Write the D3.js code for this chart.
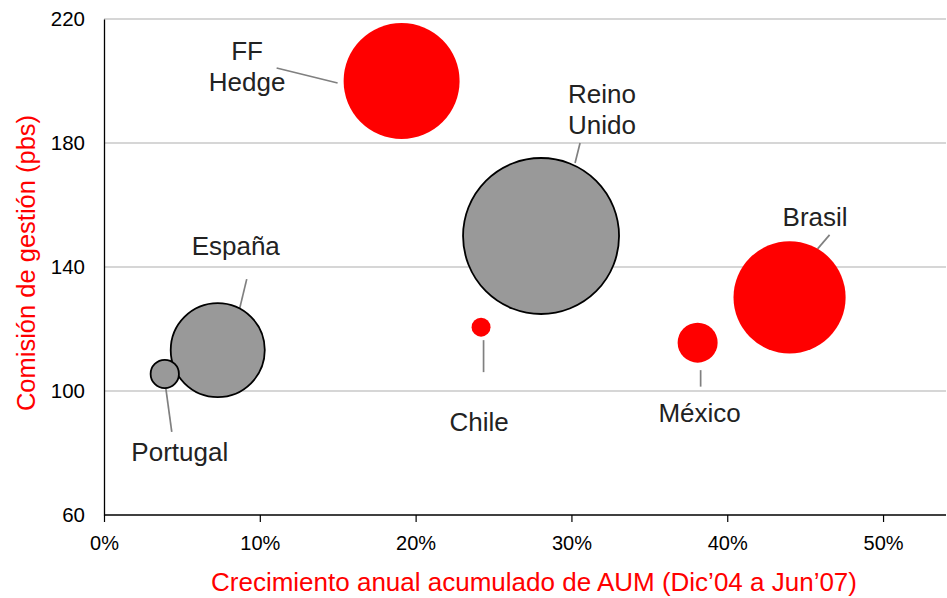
<!DOCTYPE html>
<html>
<head>
<meta charset="utf-8">
<script src="https://cdn.jsdelivr.net/npm/d3@7"></script>
<style>
  body { margin: 0; background: #fff; }
  text { font-family: "Liberation Sans", Arial, sans-serif; }
</style>
</head>
<body>
<div id="chart"></div>
<script>
// data
var names    = ["FF Hedge", "Reino Unido", "Brasil", "España", "Portugal", "Chile", "México"];
var growth   = [19.1, 28.05, 44.0, 7.3, 3.9, 24.2, 38.1];   // % anual
var fee      = [200, 150, 130.2, 113.2, 105.5, 120.6, 115.6]; // pbs
var sizes    = [336, 608, 314, 221, 20, 9, 40];               // relative bubble size
var group    = ["red", "grey", "red", "grey", "grey", "red", "red"];
var xTicks   = [0, 10, 20, 30, 40, 50];
var yTicks   = [60, 100, 140, 180, 220];

// label placement: text lines, baseline offset, leader line (offsets from bubble centre)
var labels = [
  {lines: ["FF", "Hedge"], tx: -154.5, ty: -21, lead: [-125, -13, -64, 2]},
  {lines: ["Reino", "Unido"], tx: 61, ty: -133, lead: [39, -93, 34, -73]},
  {lines: ["Brasil"], tx: 25.5, ty: -71.5, lead: [40, -62.5, 28, -48.5]},
  {lines: ["España"], tx: 18, ty: -95, lead: [29, -71, 22, -42]},
  {lines: ["Portugal"], tx: 15, ty: 87, lead: [7, 58, 1, 14]},
  {lines: ["Chile"], tx: -2, ty: 104, lead: [2.5, 13, 2.5, 45]},
  {lines: ["México"], tx: 2, ty: 79.5, lead: [3, 27.5, 3, 44]}
];

var width = 947, height = 598;
var mLeft = 104, mRight = 946, mTop = 19, mBottom = 515;

var svg = d3.select("#chart").append("svg")
    .attr("width", width)
    .attr("height", height);

var x = d3.scaleLinear().domain([0, 54.04]).range([mLeft, mRight]);
var y = d3.scaleLinear().domain([60, 220]).range([mBottom, mTop]);
var r = d3.scaleSqrt().domain([0, 608]).range([0, 78]);

// gridlines
svg.selectAll(".grid")
    .data(yTicks.filter(d => d > 60))
    .enter().append("line")
    .attr("x1", mLeft).attr("x2", mRight)
    .attr("y1", d => y(d)).attr("y2", d => y(d))
    .attr("stroke", "#c8c8c8")
    .attr("stroke-width", 1.3);

// x axis
var xAxis = svg.append("g")
    .attr("transform", "translate(0," + mBottom + ")")
    .call(d3.axisBottom(x).tickValues(xTicks).tickFormat(d => d + "%").tickSize(7).tickPadding(14));
xAxis.select(".domain").attr("stroke", "#000").attr("stroke-width", 1.3).attr("d", "M" + mLeft + ",0H" + mRight);
xAxis.selectAll(".tick line").attr("stroke", "#000").attr("stroke-width", 1.2);
xAxis.selectAll("text").attr("font-size", 20).attr("fill", "#000")
    .style("font-family", '"Liberation Sans", Arial, sans-serif');

// y axis
var yAxis = svg.append("g")
    .attr("transform", "translate(" + mLeft + ",0)")
    .call(d3.axisLeft(y).tickValues(yTicks).tickSize(0).tickPadding(19));
yAxis.select(".domain").attr("stroke", "#000").attr("stroke-width", 1.3);
yAxis.selectAll("text").attr("font-size", 20.5).attr("fill", "#000")
    .style("font-family", '"Liberation Sans", Arial, sans-serif');

// axis titles
svg.append("text")
    .attr("x", 534).attr("y", 591)
    .attr("text-anchor", "middle")
    .attr("font-size", 26)
    .attr("fill", "#ff0000")
    .text("Crecimiento anual acumulado de AUM (Dic\u201904 a Jun\u201907)");

svg.append("text")
    .attr("transform", "translate(35,263) rotate(-90)")
    .attr("text-anchor", "middle")
    .attr("font-size", 25.5)
    .attr("fill", "#ff0000")
    .text("Comisión de gestión (pbs)");

var data = names.map((n, i) => ({name: n, gx: growth[i], fy: fee[i], s: sizes[i], g: group[i], lab: labels[i]}));

// leader lines
svg.selectAll(".lead")
    .data(data)
    .enter().append("line")
    .attr("x1", d => x(d.gx) + d.lab.lead[0])
    .attr("y1", d => y(d.fy) + d.lab.lead[1])
    .attr("x2", d => x(d.gx) + d.lab.lead[2])
    .attr("y2", d => y(d.fy) + d.lab.lead[3])
    .attr("stroke", "#808080")
    .attr("stroke-width", 1.7);

// bubbles
svg.selectAll(".bubble")
    .data(data)
    .enter().append("circle")
    .attr("cx", d => x(d.gx))
    .attr("cy", d => y(d.fy))
    .attr("r", d => r(d.s))
    .attr("fill", d => d.g == "red" ? "#ff0000" : "#999999")
    .attr("stroke", d => d.g == "red" ? "none" : "#000")
    .attr("stroke-width", 1.8);

// labels
data.forEach(function(d) {
  var t = svg.append("text")
      .attr("text-anchor", "middle")
      .attr("font-size", 26)
      .attr("fill", "#222");
  d.lab.lines.forEach(function(line, j) {
    t.append("tspan")
        .attr("x", x(d.gx) + d.lab.tx)
        .attr("y", y(d.fy) + d.lab.ty + j * 31)
        .text(line);
  });
});
</script>
</body>
</html>
